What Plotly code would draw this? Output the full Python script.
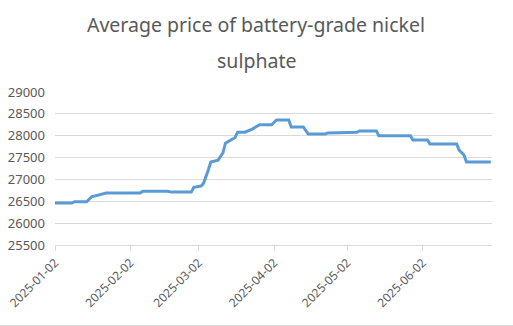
import plotly.graph_objects as go

dates = ["2025-01-02","2025-01-09","2025-01-10","2025-01-15","2025-01-17","2025-01-20","2025-01-23",
         "2025-02-06","2025-02-07","2025-02-17","2025-02-19","2025-02-27","2025-02-28","2025-03-03",
         "2025-03-04","2025-03-06","2025-03-07","2025-03-10","2025-03-12","2025-03-13","2025-03-17",
         "2025-03-18","2025-03-21","2025-03-24","2025-03-26","2025-03-27","2025-04-01","2025-04-03",
         "2025-04-08","2025-04-09","2025-04-14","2025-04-16","2025-04-23","2025-04-24","2025-05-06",
         "2025-05-07","2025-05-14","2025-05-15","2025-05-28","2025-05-29","2025-06-04","2025-06-05",
         "2025-06-16","2025-06-17","2025-06-19","2025-06-20","2025-06-30"]
prices = [26460,26460,26490,26490,26600,26640,26690,
          26690,26730,26730,26710,26710,26820,26850,
          26910,27220,27400,27440,27610,27830,27960,
          28080,28080,28150,28220,28250,28250,28360,
          28360,28200,28200,28040,28040,28060,28080,
          28110,28110,28000,28000,27900,27900,27810,
          27810,27670,27560,27400,27400]

tick_vals = ["2025-01-02","2025-02-02","2025-03-02","2025-04-02","2025-05-02","2025-06-02"]
y_ticks = [25500,26000,26500,27000,27500,28000,28500,29000]
y_labels = [str(v) for v in y_ticks]
title_lines = ["Average price of battery-grade nickel", "sulphate"]

FONT = "Noto Sans"
GREY = "#595959"

fig = go.Figure()
fig.add_trace(go.Scatter(x=dates, y=prices, mode="lines",
                         line=dict(color="#5b9bd5", width=3), hoverinfo="skip"))

fig.update_layout(
    width=513, height=326,
    margin=dict(l=55, r=21, t=92, b=81),
    paper_bgcolor="white", plot_bgcolor="white",
    showlegend=False,
    font=dict(family=FONT, color=GREY, size=13),
    xaxis=dict(type="date", range=["2025-01-02", "2025-06-30 12:00"],
               tickvals=tick_vals, ticktext=tick_vals, tickangle=-45,
               showgrid=False, showline=True, linecolor="#d9d9d9", linewidth=1,
               ticks="outside", ticklen=5, tickcolor="#d9d9d9",
               tickfont=dict(size=12, color=GREY), zeroline=False, automargin=False),
    yaxis=dict(range=[25500, 29000], tickvals=y_ticks, ticktext=y_labels,
               showgrid=True, gridcolor="#d9d9d9", gridwidth=1,
               showline=False, zeroline=False, ticks="",
               tickfont=dict(size=13, color=GREY), ticklabelstandoff=9, automargin=False),
    annotations=[
        dict(text=title_lines[0], xref="paper", yref="paper", x=0.461, y=1.444,
             xanchor="center", yanchor="middle", showarrow=False,
             font=dict(size=19.5, color=GREY, family=FONT)),
        dict(text=title_lines[1], xref="paper", yref="paper", x=0.461, y=1.209,
             xanchor="center", yanchor="middle", showarrow=False,
             font=dict(size=19.5, color=GREY, family=FONT)),
    ],
    shapes=[dict(type="line", xref="paper", yref="paper",
                 x0=-0.1259, x1=1.048, y0=-0.526, y1=-0.526,
                 line=dict(color="#d9d9d9", width=1))],
)

fig.write_html("out.html")
